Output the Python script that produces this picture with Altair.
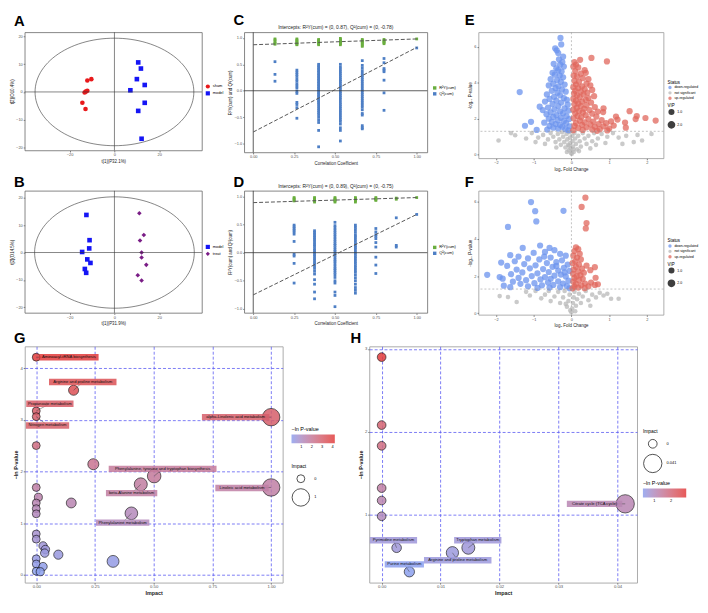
import altair as alt
import pandas as pd
import numpy as np

FONT = "Liberation Sans"

# ---------------- A / B : PCA score plots ----------------
A_sham_x = [-10.3, -12.1, -12.1, -12.8, -13.3, -14.3, -12.9]
A_sham_y = [4.6, 4.1, 0.45, 0.1, -0.2, -3.9, -6.1]
A_model_x = [10.6, 11.8, 10.0, 13.5, 7.1, 13.5, 10.6, 12.1]
A_model_y = [10.6, 8.4, 4.6, 2.5, 0.6, -3.9, -6.8, -16.8]

B_model_x = [-12.5, -11.1, -11.25, -14.4, -12.1, -10.7, -13.2, -12.6]
B_model_y = [13.7, 4.5, 1.5, 0.2, -2.5, -3.8, -6.0, -7.4]
B_treat_x = [11.1, 13.1, 11.4, 12.1, 12.1, 14.2, 10.4, 12.1]
B_treat_y = [14.3, 6.4, 4.4, 0.0, -1.8, -4.5, -8.3, -10.2]

# ---------------- C / D : permutation tests ----------------
C_cols = [0.133, 0.267, 0.4, 0.533, 0.667, 0.8, 1.0]
C_green = [
    [0.98, 0.96, 0.93, 0.90, 0.88],
    [0.98, 0.96, 0.94, 0.92, 0.90, 0.88, 0.87],
    [0.97, 0.95, 0.93, 0.91, 0.89, 0.87],
    [0.99, 0.97, 0.95, 0.93, 0.91, 0.89, 0.87],
    [0.97, 0.95, 0.93, 0.91, 0.89, 0.86, 0.84],
    [0.97, 0.95, 0.93, 0.91, 0.89],
    [0.98],
]
C_blue = [
    [0.55, 0.31, 0.18],
    [0.39, 0.35, 0.31, 0.27, 0.22, 0.18, 0.13, 0.09, 0.05, -0.01, -0.05, -0.22, -0.26, -0.32, -0.52],
    [0.50, 0.47, 0.44, 0.41, 0.38, 0.35, 0.32, 0.29, 0.26, 0.23, 0.20, 0.17, 0.14, 0.11, 0.08, 0.05,
     0.02, -0.01, -0.04, -0.07, -0.10, -0.13, -0.16, -0.19, -0.22, -0.25, -0.29, -0.33, -0.37, -0.41,
     -0.45, -0.50, -0.55, -0.60, -0.75, -1.06],
    [0.50, 0.45, 0.41, 0.37, 0.33, 0.29, 0.25, 0.21, 0.18, 0.14, 0.10, 0.07, 0.03, -0.01, -0.05, -0.09,
     -0.13, -0.17, -0.22, -0.26, -0.30, -0.34, -0.38, -0.42, -0.46, -0.50, -0.54, -0.58, -0.63, -0.70,
     -0.75, -0.95],
    [0.57, 0.48, 0.43, 0.38, 0.33, 0.29, 0.25, 0.21, 0.17, 0.13, 0.09, 0.05, 0.01, -0.03, -0.07, -0.11,
     -0.15, -0.19, -0.23, -0.27, -0.31, -0.36, -0.43, -0.46, -0.66, -0.70, -0.72],
    [0.61, 0.53, 0.42, 0.39, 0.36, 0.20, -0.04, -0.37],
    [0.81],
]
C_r2_line = [0.87, 0.98]
C_q2_line = [-0.78, 0.82]

D_cols = [0.25, 0.375, 0.5, 0.625, 0.75, 0.875, 1.0]
D_green = [
    [0.98, 0.96, 0.94, 0.92],
    [0.98, 0.96, 0.94, 0.92, 0.90],
    [0.98, 0.96, 0.94, 0.92, 0.90],
    [0.98, 0.96, 0.94, 0.92, 0.90],
    [0.98, 0.96, 0.94, 0.93],
    [0.97, 0.95],
    [0.98],
]
D_blue = [
    [0.49, 0.46, 0.43, 0.40, 0.37, 0.33, 0.20, -0.03, -0.06, -0.19, -0.54],
    [0.39, 0.36, 0.33, 0.30, 0.27, 0.24, 0.21, 0.17, 0.14, 0.11, 0.07, 0.04, 0.01, -0.03, -0.06, -0.10,
     -0.13, -0.17, -0.20, -0.24, -0.28, -0.33, -0.38, -0.48, -0.56, -0.70, -0.82],
    [0.54, 0.48, 0.44, 0.40, 0.36, 0.32, 0.28, 0.24, 0.20, 0.16, 0.13, 0.09, 0.05, 0.02, -0.02, -0.05,
     -0.09, -0.13, -0.16, -0.20, -0.24, -0.28, -0.31, -0.35, -0.39, -0.44, -0.50, -0.54, -0.70, -0.76, -0.96],
    [0.49, 0.45, 0.41, 0.36, 0.31, 0.28, 0.24, 0.20, 0.16, 0.12, 0.09, 0.05, 0.01, -0.03, -0.07, -0.11,
     -0.15, -0.19, -0.23, -0.27, -0.31, -0.35, -0.40, -0.45, -0.50, -0.56, -0.62, -0.67, -0.72],
    [0.43, 0.37, 0.32, 0.29, 0.25, 0.18, 0.10, -0.08, -0.22, -0.37],
    [0.62, 0.13, 0.10],
    [0.68],
]
D_r2_line = [0.89, 0.98]
D_q2_line = [-0.75, 0.68]

# ---------------- E / F : volcano plots ----------------
E_down = [(-0.29, 6.49), (-0.27, 6.13), (-0.43, 5.91), (-0.39, 5.80), (-0.35, 5.65), (-0.22, 5.45), (-0.33, 5.30),
          (-0.24, 5.15), (-0.47, 5.05), (-0.30, 5.00), (-0.20, 4.90), (-0.40, 4.80), (-0.35, 4.70), (-0.26, 4.62),
          (-0.50, 4.55), (-0.44, 4.45), (-0.31, 4.40), (-0.22, 4.30), (-0.55, 4.20), (-0.38, 4.15), (-0.28, 4.05),
          (-0.48, 3.95), (-0.18, 3.90), (-0.60, 3.85), (-0.34, 3.80), (-0.42, 3.70), (-0.25, 3.62), (-0.52, 3.55),
          (-0.15, 3.50), (-0.37, 3.45), (-1.37, 3.48), (-0.65, 3.35), (-0.30, 3.30), (-0.46, 3.22), (-0.20, 3.15),
          (-0.58, 3.10), (-0.12, 3.05), (-0.40, 3.00), (-0.70, 2.95), (-0.27, 2.90), (-0.50, 2.82), (-0.10, 2.78),
          (-0.84, 2.67), (-0.35, 2.70), (-0.62, 2.62), (-0.18, 2.58), (-0.45, 2.52), (-0.76, 2.48), (-0.08, 2.45),
          (-0.30, 2.40), (-0.55, 2.35), (-0.22, 2.30), (-0.66, 2.25), (-0.40, 2.20), (-0.13, 2.15), (-0.48, 2.10),
          (-0.28, 2.05), (-0.60, 2.00), (-0.06, 1.98), (-0.36, 1.92), (-1.07, 1.83), (-0.20, 1.88), (-0.52, 1.82),
          (-0.72, 1.78), (-0.14, 1.75), (-0.42, 1.70), (-1.23, 1.61), (-0.30, 1.65), (-0.58, 1.60), (-0.05, 1.58),
          (-0.24, 1.55), (-0.48, 1.50), (-0.92, 1.38), (-0.35, 1.45), (-0.16, 1.42), (-0.64, 1.40), (-0.08, 1.36)]
E_up = [(0.53, 5.38), (0.94, 5.18), (0.23, 5.27), (0.08, 5.15), (0.12, 5.00), (0.05, 4.90), (0.18, 4.85),
        (0.35, 4.70), (0.38, 4.55), (0.10, 4.65), (0.25, 4.50), (0.06, 4.40), (0.15, 4.35), (0.30, 4.25),
        (0.45, 4.20), (0.08, 4.10), (0.20, 4.05), (0.40, 3.95), (0.12, 3.90), (0.50, 3.85), (0.28, 3.80),
        (0.05, 3.75), (0.18, 3.70), (0.35, 3.65), (0.55, 3.60), (0.10, 3.55), (0.25, 3.50), (0.42, 3.45),
        (0.07, 3.40), (0.32, 3.35), (0.15, 3.30), (0.60, 3.25), (0.22, 3.20), (0.45, 3.15), (0.05, 3.10),
        (0.38, 3.05), (0.12, 3.00), (0.28, 2.95), (0.52, 2.90), (0.18, 2.85), (0.08, 2.80), (0.40, 2.75),
        (0.85, 2.58), (0.25, 2.70), (0.62, 2.65), (0.14, 2.60), (0.34, 2.55), (0.05, 2.50), (0.48, 2.48),
        (0.20, 2.42), (0.70, 2.40), (1.54, 2.42), (0.30, 2.35), (0.10, 2.30), (0.55, 2.28), (0.84, 2.37),
        (1.73, 2.15), (0.38, 2.20), (0.16, 2.15), (1.96, 2.04), (1.70, 1.98), (0.66, 2.12), (0.26, 2.08),
        (1.18, 2.12), (0.06, 2.02), (0.45, 1.98), (2.23, 1.90), (1.22, 1.95), (0.80, 1.92), (0.22, 1.90),
        (1.42, 1.79), (1.05, 1.85), (0.58, 1.84), (0.35, 1.80), (0.12, 1.76), (0.92, 1.75), (0.72, 1.70),
        (0.50, 1.68), (1.44, 1.50), (0.28, 1.66), (1.12, 1.62), (0.08, 1.60), (0.85, 1.58), (0.62, 1.55),
        (0.40, 1.52), (0.18, 1.48), (1.00, 1.45), (0.75, 1.42), (0.55, 1.40), (0.30, 1.38), (0.05, 1.36),
        (0.95, 1.35), (0.68, 1.33)]
E_ns = [(-1.93, 0.79), (-1.49, 1.08), (2.12, 1.15), (1.87, 0.79), (1.65, 0.70), (1.45, 1.05), (1.25, 0.95),
        (1.10, 1.20), (0.95, 1.00), (0.80, 1.15), (0.70, 0.90), (0.60, 1.20), (0.55, 0.75), (0.45, 1.05),
        (0.40, 0.60), (0.35, 0.90), (0.30, 1.20), (0.25, 0.45), (0.22, 0.75), (0.18, 1.05), (0.15, 0.30),
        (0.12, 0.60), (0.10, 0.90), (0.08, 1.20), (0.06, 0.15), (0.04, 0.45), (0.03, 0.75), (0.02, 1.05),
        (0.01, 0.05), (-0.01, 0.10), (-0.02, 0.35), (-0.03, 0.65), (-0.04, 0.95), (-0.05, 1.25), (-0.07, 0.25),
        (-0.09, 0.55), (-0.11, 0.85), (-0.13, 1.15), (-0.16, 0.40), (-0.19, 0.70), (-0.22, 1.00), (-0.25, 1.25),
        (-0.28, 0.55), (-0.32, 0.85), (-0.36, 1.15), (-0.42, 0.70), (-0.48, 1.00), (-0.55, 1.20), (-0.62, 0.85),
        (-0.75, 1.10), (-0.88, 0.95), (-1.05, 1.20), (-1.20, 0.90), (-0.70, 0.60), (0.65, 0.55), (0.90, 0.65),
        (1.35, 0.60), (-0.95, 0.70), (0.20, 0.20), (-0.12, 0.15), (0.50, 0.35), (-0.40, 0.40), (1.75, 1.10),
        (-1.60, 1.20), (0.05, 0.30), (-0.06, 0.50)]

F_down = [(-1.07, 5.99), (-0.96, 5.50), (-0.21, 5.52), (-0.93, 4.95), (-1.68, 4.65), (-0.83, 3.65), (-1.29, 3.52),
          (-0.58, 3.52), (-1.62, 3.13), (-1.86, 2.73), (-2.23, 2.07), (-1.79, 1.48), (-1.82, 1.86), (-0.45, 3.40),
          (-0.70, 3.30), (-1.00, 3.25), (-0.30, 3.20), (-0.15, 3.10), (-1.40, 3.05), (-0.55, 3.00), (-1.15, 2.95),
          (-0.85, 2.90), (-0.25, 2.85), (-1.50, 2.80), (-0.40, 2.75), (-0.65, 2.70), (-1.25, 2.65), (-0.10, 2.62),
          (-0.95, 2.58), (-1.70, 2.55), (-0.50, 2.50), (-0.20, 2.45), (-1.10, 2.42), (-0.75, 2.38), (-1.45, 2.35),
          (-0.35, 2.30), (-0.05, 2.28), (-0.60, 2.22), (-1.30, 2.20), (-0.90, 2.15), (-1.60, 2.10), (-0.28, 2.08),
          (-0.45, 2.02), (-1.05, 2.00), (-0.15, 1.98), (-0.70, 1.95), (-1.90, 1.95), (-1.40, 1.90), (-0.55, 1.85),
          (-0.82, 1.82), (-1.20, 1.78), (-0.08, 1.75), (-0.35, 1.72), (-1.55, 1.70), (-0.62, 1.66), (-0.98, 1.62),
          (-0.22, 1.60), (-1.35, 1.58), (-0.48, 1.52), (-0.78, 1.50), (-0.12, 1.46), (-1.15, 1.45), (-0.30, 1.40),
          (-0.58, 1.38), (-0.90, 1.36), (-1.62, 1.40), (-0.05, 1.34), (-0.40, 2.55), (-0.18, 2.20), (-0.72, 3.05)]
F_up = [(0.37, 6.23), (0.27, 5.73), (0.40, 4.86), (0.38, 4.57), (0.12, 3.55), (0.18, 3.45), (0.08, 3.35),
        (0.22, 3.20), (0.05, 3.10), (0.15, 3.00), (0.25, 2.90), (0.10, 2.80), (0.03, 2.70), (0.20, 2.62),
        (0.40, 2.57), (0.62, 2.48), (0.12, 2.50), (0.28, 2.40), (0.06, 2.35), (0.50, 2.32), (0.18, 2.25),
        (0.33, 2.18), (0.04, 2.12), (0.24, 2.05), (0.64, 1.91), (0.14, 1.98), (0.08, 1.90), (0.30, 1.85),
        (0.20, 1.78), (0.52, 1.65), (0.05, 1.70), (0.36, 1.60), (0.70, 1.56), (0.12, 1.58), (0.62, 1.52),
        (0.26, 1.50), (0.45, 1.45), (0.08, 1.42), (0.18, 1.38), (0.35, 1.35), (0.03, 1.34)]
F_ns = [(-1.68, 0.87), (1.25, 0.78), (1.05, 0.78), (0.75, 1.10), (-1.45, 0.60), (-1.20, 1.15), (-0.95, 1.20),
        (-0.80, 0.80), (-0.60, 1.20), (-0.45, 0.90), (-0.35, 1.15), (-0.30, 0.55), (-0.22, 0.85), (-0.18, 1.20),
        (-0.12, 0.35), (-0.08, 0.65), (-0.05, 1.00), (-0.03, 0.15), (0.00, 0.05), (0.02, 0.25), (0.04, 0.55),
        (0.06, 0.85), (0.08, 1.15), (0.12, 0.40), (0.15, 0.75), (0.20, 1.05), (0.25, 0.55), (0.30, 0.90),
        (0.38, 1.20), (0.45, 0.70), (0.55, 1.00), (0.65, 0.85), (0.85, 0.95), (0.50, 0.40), (-0.55, 0.65),
        (-1.10, 0.95), (-1.90, 0.92), (0.95, 1.05), (-0.70, 1.00), (0.10, 0.10), (-0.15, 0.50)]

STATUS = ["down-regulated", "not significant", "up-regulated"]
VIP_LEVELS = ["1.0", "2.0"]

# ---------------- G / H : pathway impact ----------------
G_impact = [0, 0.159, 0, 0, 0, 0.243, 1.0, 0.502, 0.445, 1.0, 0.405, 0.149, 0, 0.009, 0, 0, 0,
            0, 0, 0.029, 0.039, 0.036, 0.094, 0, 0.327, 0, 0.029, 0, 0.017]
G_lnp = [4.21, 3.57, 3.17, 3.06, 2.50, 2.14, 3.05, 1.91, 1.75, 1.69, 1.19, 1.39, 1.69, 1.50, 1.39, 1.28, 1.18,
         0.79, 0.69, 0.56, 0.49, 0.42, 0.39, 0.31, 0.26, 0.21, 0.16, 0.07, 0.06]
G_label_idx = [0, 1, 2, 3, 6, 7, 8, 9, 10]
G_label_txt = ["Aminoacyl-tRNA biosynthesis", "Arginine and proline metabolism", "Propanoate metabolism",
               "Nitrogen metabolism", "alpha-Linolenic acid metabolism",
               "Phenylalanine, tyrosine and tryptophan biosynthesis", "beta-Alanine metabolism",
               "Linoleic acid metabolism", "Phenylalanine metabolism"]
G_label_x = [0.139, 0.198, 0.058, 0.048, 0.849, 0.538, 0.406, 0.876, 0.368]
G_label_y = [4.21, 3.73, 3.31, 2.89, 3.05, 2.05, 1.58, 1.68, 1.01]

H_impact = [0, 0, 0, 0, 0, 0, 0.0413, 0.00254, 0.0047, 0.012, 0.0147]
H_lnp = [2.90, 2.08, 1.83, 1.32, 1.17, 0.98, 1.13, 0.60, 0.31, 0.54, 0.60]
H_label_idx = [6, 7, 8, 9, 10]
H_label_txt = ["Citrate cycle (TCA cycle)", "Pyrimidine metabolism", "Purine metabolism",
               "Arginine and proline metabolism", "Tryptophan metabolism"]
H_label_x = [0.0361, 0.0020, 0.00385, 0.0129, 0.0163]
H_label_y = [1.13, 0.69, 0.40, 0.45, 0.69]


# ---------------- helpers ----------------
def ax(**kw):
    d = dict(labelFontSize=4, titleFontSize=4.5, tickSize=1.5, labelPadding=1, titlePadding=1.5,
             labelColor="#555", titleColor="#222", titleFontWeight="normal", tickColor="#777",
             domain=False, grid=False, labelFont=FONT, titleFont=FONT)
    d.update(kw)
    return alt.Axis(**d)


def letter(tag, dx, dy):
    return alt.Chart(pd.DataFrame({"t": [tag]})).mark_text(
        fontSize=15, fontWeight="bold", font=FONT, color="#000", align="left", baseline="top"
    ).encode(x=alt.value(dx), y=alt.value(dy), text="t:N")


def pca_panel(tag, groups, xdom, ydom, rx, ry, xticks, yticks, xtitle, ytitle, w, h, ldx, ldy):
    names = [g[0] for g in groups]
    rows = []
    for name, xs, ys, _, _ in groups:
        rows += [{"x": a, "y": b, "grp": name} for a, b in zip(xs, ys)]
    df = pd.DataFrame(rows)
    sx = alt.Scale(domain=xdom, nice=False, zero=False)
    sy = alt.Scale(domain=ydom, nice=False, zero=False)
    xa = ax(values=xticks, title=xtitle)
    ya = ax(values=yticks, title=ytitle)
    leg = alt.Legend(title=None, orient="none", legendX=w + 3, legendY=h / 2 - 8, labelFontSize=4,
                     symbolSize=18, rowPadding=1, labelOffset=2, labelFont=FONT)
    pts = alt.Chart(df).mark_point(filled=True, opacity=1, size=22).encode(
        x=alt.X("x:Q", scale=sx, axis=xa),
        y=alt.Y("y:Q", scale=sy, axis=ya),
        color=alt.Color("grp:N", scale=alt.Scale(domain=names, range=[g[3] for g in groups]), legend=leg),
        shape=alt.Shape("grp:N", scale=alt.Scale(domain=names, range=[g[4] for g in groups]), legend=leg),
    )
    t = np.linspace(0, 2 * np.pi, 121)
    ell = pd.DataFrame({"x": rx * np.cos(t), "y": ry * np.sin(t), "i": np.arange(len(t))})
    ellipse = alt.Chart(ell).mark_line(color="#333", strokeWidth=0.6).encode(
        x=alt.X("x:Q", scale=sx, axis=xa), y=alt.Y("y:Q", scale=sy, axis=ya), order="i:Q")
    zero = pd.DataFrame({"x": [0], "y": [0]})
    vr = alt.Chart(zero).mark_rule(color="#333", strokeWidth=0.6).encode(x=alt.X("x:Q", scale=sx, axis=xa))
    hr = alt.Chart(zero).mark_rule(color="#333", strokeWidth=0.6).encode(y=alt.Y("y:Q", scale=sy, axis=ya))
    return alt.layer(pts, ellipse, vr, hr, letter(tag, ldx, ldy)).properties(
        width=w, height=h, view=alt.ViewBackground(stroke="#666", strokeWidth=0.8))


GREEN = "#6AAE3E"
BLUE = "#4E7FC5"


def perm_panel(tag, cols, green, blue, r2, q2, subtitle, w, h, ydom, ldx, ldy):
    rows = []
    for cx, vals in zip(cols, green):
        rows += [{"x": cx, "y": v, "s": "R²Y(cum)"} for v in vals]
    for cx, vals in zip(cols, blue):
        rows += [{"x": cx, "y": v, "s": "Q²(cum)"} for v in vals]
    df = pd.DataFrame(rows)
    sx = alt.Scale(domain=[-0.055, 1.065], nice=False, zero=False)
    sy = alt.Scale(domain=ydom, nice=False, zero=False)
    xa = ax(values=[0, 0.25, 0.5, 0.75, 1], format=".2f", title="Correlation Coefficient")
    ya = ax(values=[-1, -0.5, 0, 0.5, 1], format=".1f", title="R²Y(cum) and Q²(cum)")
    pts = alt.Chart(df).mark_square(size=8, opacity=1).encode(
        x=alt.X("x:Q", scale=sx, axis=xa),
        y=alt.Y("y:Q", scale=sy, axis=ya),
        color=alt.Color("s:N", scale=alt.Scale(domain=["R²Y(cum)", "Q²(cum)"], range=[GREEN, BLUE]),
                        legend=alt.Legend(title=None, orient="none", legendX=w + 5, legendY=h / 2 - 7,
                                          labelFontSize=4, symbolSize=12, symbolType="square",
                                          rowPadding=1, labelOffset=2, labelFont=FONT)),
    )
    ln = pd.DataFrame({"x": [0, 0], "x2": [1, 1], "y": [r2[0], q2[0]], "y2": [r2[1], q2[1]]})
    lines = alt.Chart(ln).mark_rule(strokeDash=[4, 2], color="#555", strokeWidth=1).encode(
        x=alt.X("x:Q", scale=sx, axis=xa), x2="x2:Q", y=alt.Y("y:Q", scale=sy, axis=ya), y2="y2:Q")
    zero = pd.DataFrame({"x": [0], "y": [0]})
    vr = alt.Chart(zero).mark_rule(color="#333", strokeWidth=0.8).encode(x=alt.X("x:Q", scale=sx, axis=xa))
    hr = alt.Chart(zero).mark_rule(color="#333", strokeWidth=0.8).encode(y=alt.Y("y:Q", scale=sy, axis=ya))
    sub = alt.Chart(pd.DataFrame({"t": [subtitle]})).mark_text(
        fontSize=5, font=FONT, color="#222", baseline="middle").encode(
        x=alt.value(w / 2), y=alt.value(-5), text="t:N")
    return alt.layer(pts, vr, hr, lines, sub, letter(tag, ldx, ldy)).properties(
        width=w, height=h, view=alt.ViewBackground(stroke="#666", strokeWidth=0.8))


def volcano_panel(tag, down, ns, up, w, h, ydom, ldx, ldy):
    rows = []
    for pts_, st, vip in [(ns, STATUS[1], VIP_LEVELS[0]), (down, STATUS[0], VIP_LEVELS[1]),
                          (up, STATUS[2], VIP_LEVELS[1])]:
        rows += [{"x": a, "y": b, "status": st, "vip": vip} for a, b in pts_]
    df = pd.DataFrame(rows)
    sx = alt.Scale(domain=[-2.46, 2.44], nice=False, zero=False)
    sy = alt.Scale(domain=ydom, nice=False, zero=False)
    xa = ax(values=[-2, -1, 0, 1, 2], title="log₂ Fold Change")
    ya = ax(values=[0, 2, 4, 6], title="-log₁₀ P-value")
    pts = alt.Chart(df).mark_circle(opacity=0.75).encode(
        x=alt.X("x:Q", scale=sx, axis=xa),
        y=alt.Y("y:Q", scale=sy, axis=ya),
        color=alt.Color("status:N", scale=alt.Scale(domain=STATUS, range=["#6B93EE", "#B8B8B8", "#E0675C"]),
                        legend=alt.Legend(title="Status", orient="none", legendX=w + 4, legendY=48,
                                          labelFontSize=3.5, titleFontSize=4.5, symbolSize=12, rowPadding=0.5,
                                          labelOffset=2, titleFontWeight="normal", labelFont=FONT,
                                          titleFont=FONT, titlePadding=1, symbolType="circle")),
        size=alt.Size("vip:N", scale=alt.Scale(domain=VIP_LEVELS, range=[22, 40]),
                      legend=alt.Legend(title="VIP", orient="none", legendX=w + 4, legendY=72,
                                        labelFontSize=3.5, titleFontSize=4.5, rowPadding=0.5, labelOffset=2,
                                        titleFontWeight="normal", labelFont=FONT, titleFont=FONT,
                                        titlePadding=1, symbolFillColor="black", symbolStrokeColor="black")),
    )
    vr = alt.Chart(pd.DataFrame({"x": [0]})).mark_rule(color="#999", strokeWidth=0.6, strokeDash=[2, 2]).encode(
        x=alt.X("x:Q", scale=sx, axis=xa))
    hr = alt.Chart(pd.DataFrame({"y": [1.301]})).mark_rule(color="#999", strokeWidth=0.6, strokeDash=[2, 2]).encode(
        y=alt.Y("y:Q", scale=sy, axis=ya))
    return alt.layer(pts, vr, hr, letter(tag, ldx, ldy)).properties(
        width=w, height=h, view=alt.ViewBackground(stroke="#999", strokeWidth=0.8))


def path_panel(tag, imp, lnp, l_idx, l_txt, l_x, l_y, xdom, ydom, xticks, yticks, xfmt, w, h,
               cdom, cvals, sdom, srng, svals, slabel, cpos, spos, ldx, ldy):
    df = pd.DataFrame({"x": imp, "y": lnp, "lnp": lnp, "imp": imp})
    lab = pd.DataFrame({"x": l_x, "y": l_y, "txt": l_txt,
                        "px": [imp[i] for i in l_idx], "py": [lnp[i] for i in l_idx],
                        "lnp": [lnp[i] for i in l_idx],
                        "bw": [len(t) * 2.05 + 5 for t in l_txt]})
    sx = alt.Scale(domain=xdom, nice=False, zero=False)
    sy = alt.Scale(domain=ydom, nice=False, zero=False)
    cscale = alt.Scale(domain=cdom, range=["#8CA0EE", "#E23B3B"], interpolate="lab")
    cleg = alt.Legend(title="−ln P-value", direction="horizontal", orient="none", legendX=cpos[0],
                      legendY=cpos[1], gradientLength=44, gradientThickness=9, values=cvals,
                      titleFontSize=5.5, labelFontSize=4, titleFontWeight="normal", labelFont=FONT,
                      titleFont=FONT, titlePadding=2)
    gax = dict(grid=True, gridColor="#5A5AF2", gridDash=[3, 2], gridWidth=0.8, titleFontSize=5.5,
               titleFontWeight="bold", labelFontSize=4.3, titlePadding=1)
    xa = ax(values=xticks, format=xfmt, title="Impact", orient="bottom", **gax)
    ya = ax(values=yticks, format="d", title="−ln P-value", orient="left", **gax)
    pts = alt.Chart(df).mark_circle(stroke="black", strokeWidth=0.7, opacity=0.85).encode(
        x=alt.X("x:Q", scale=sx, axis=xa),
        y=alt.Y("y:Q", scale=sy, axis=ya),
        color=alt.Color("lnp:Q", scale=cscale, legend=cleg),
        size=alt.Size("imp:Q", scale=alt.Scale(domain=sdom, range=srng),
                      legend=alt.Legend(title="Impact", values=svals, labelExpr=slabel, orient="none",
                                        legendX=spos[0], legendY=spos[1], symbolFillColor="white",
                                        symbolStrokeColor="black", symbolStrokeWidth=0.8, titleFontSize=5,
                                        labelFontSize=4, titleFontWeight="normal", labelFont=FONT,
                                        titleFont=FONT, labelOffset=4)),
    )
    segs = alt.Chart(lab).mark_rule(color="#444", strokeWidth=0.5).encode(
        x=alt.X("x:Q", scale=sx, axis=xa), y=alt.Y("y:Q", scale=sy, axis=ya), x2="px:Q", y2="py:Q")
    boxes = alt.Chart(lab).mark_tick(orient="horizontal", thickness=6.5, opacity=0.85).encode(
        x=alt.X("x:Q", scale=sx, axis=xa), y=alt.Y("y:Q", scale=sy, axis=ya),
        size=alt.Size("bw:Q", scale=None),
        color=alt.Color("lnp:Q", scale=cscale, legend=cleg))
    texts = alt.Chart(lab).mark_text(fontSize=4.2, font=FONT, color="#111").encode(
        x=alt.X("x:Q", scale=sx, axis=xa), y=alt.Y("y:Q", scale=sy, axis=ya), text="txt:N")
    return alt.layer(pts, segs, boxes, texts, letter(tag, ldx, ldy)).properties(
        width=w, height=h, view=alt.ViewBackground(stroke="#AAAAAA", strokeWidth=1))


# ---------------- panels ----------------
pA = pca_panel("A", [("sham", A_sham_x, A_sham_y, "#E8191B", "circle"),
                     ("model", A_model_x, A_model_y, "#1515F5", "square")],
               [-40, 39], [-21, 21.4], 35.4, 19.3, [-20, 0, 20], [-20, -10, 0, 10, 20],
               "t[1](P32.1%)", "t[2](O10.4%)", 180, 120, -11, -18)
pB = pca_panel("B", [("model", B_model_x, B_model_y, "#1515F5", "square"),
                     ("treat", B_treat_x, B_treat_y, "#7A1D86", "diamond")],
               [-40, 39], [-22, 22.5], 35.6, 20.3, [-20, 0, 20], [-20, -10, 0, 10, 20],
               "t[1](P31.9%)", "t[2](O14.5%)", 180, 124, -11, -16)
pC = perm_panel("C", C_cols, C_green, C_blue, C_r2_line, C_q2_line,
                "Intercepts: R²Y(cum) = (0, 0.87), Q²(cum) = (0, -0.78)", 186, 122, [-1.166, 1.105], -11, -19)
pD = perm_panel("D", D_cols, D_green, D_blue, D_r2_line, D_q2_line,
                "Intercepts: R²Y(cum) = (0, 0.89), Q²(cum) = (0, -0.75)", 186, 124, [-1.07, 1.10], -11, -16)
pE = volcano_panel("E", E_down, E_ns, E_up, 188, 128, [-0.2, 6.8], -14, -19)
pF = volcano_panel("F", F_down, F_ns, F_up, 188, 126, [-0.09, 6.6], -14, -16)
pG = path_panel("G", G_impact, G_lnp, G_label_idx, G_label_txt, G_label_x, G_label_y,
                [-0.049, 1.049], [-0.15, 4.42], [0, 0.25, 0.5, 0.75, 1.0], [0, 1, 2, 3, 4], ".2f", 262, 240,
                [0.06, 4.21], [1, 2, 3, 4], [0, 1], [64, 314], [0, 1],
                "datum.value == 0 ? '0' : '1'", (271, 82), (271, 120), -11, -15)
pH = path_panel("H", H_impact, H_lnp, H_label_idx, H_label_txt, H_label_x, H_label_y,
                [-0.0021, 0.0433], [0.18, 3.03], [0, 0.01, 0.02, 0.03, 0.04], [1, 2, 3], ".2f", 272, 240,
                [0.31, 2.90], [1, 2], [0, 0.0413], [78, 346], [0, 0.0413],
                "datum.value == 0 ? '0' : '0.041'", (278, 137), (278, 84), -19, -15)

RES = dict(color="independent", size="independent", shape="independent")


def row(charts, spacing):
    return alt.concat(*charts, columns=len(charts), spacing=spacing, align="none").resolve_scale(**RES)


row1 = row([row([pA, pC], 2), pE], 6)
row2 = row([row([pB, pD], 2), pF], 6)
row3 = alt.hconcat(pG, pH, spacing=14).resolve_scale(**RES)

chart = alt.vconcat(row1, row2, row3, spacing=3).resolve_scale(**RES).properties(padding=0)
chart = chart.configure(font=FONT).configure_legend(labelFont=FONT, titleFont=FONT)

chart.save("out.html", embed_options={"renderer": "svg", "actions": False})
